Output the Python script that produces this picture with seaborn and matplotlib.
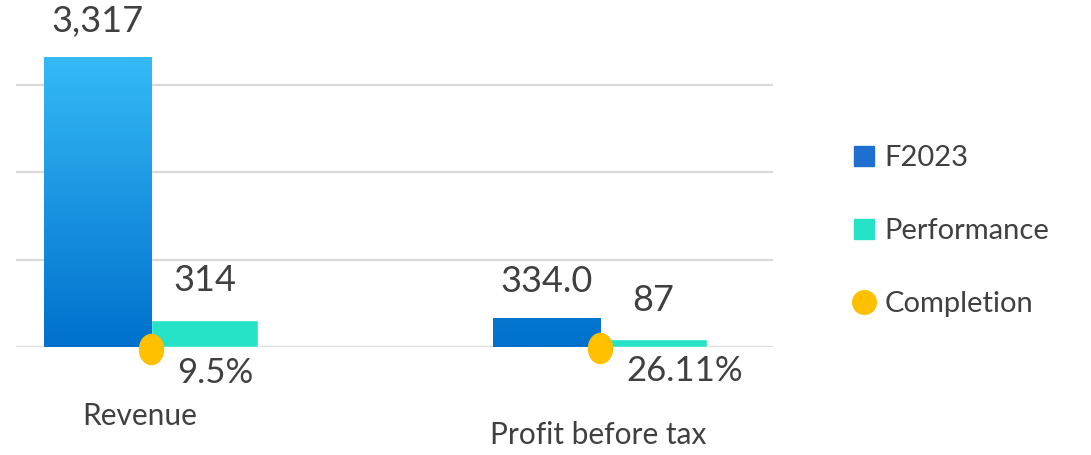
import numpy as np
import pandas as pd
import matplotlib
matplotlib.use("Agg")
import matplotlib.pyplot as plt
import seaborn as sns
from matplotlib.colors import LinearSegmentedColormap
from matplotlib.lines import Line2D
from matplotlib.path import Path

categories = ["Revenue", "Profit before tax"]
f2023 = [3317, 334.0]
performance = [314, 87]
completion = [9.5, 26.11]
f2023_labels = ["3,317", "334.0"]
performance_labels = ["314", "87"]
completion_labels = ["9.5%", "26.11%"]

df = pd.DataFrame({
    "category": categories * 2,
    "series": ["F2023"] * 2 + ["Performance"] * 2,
    "value": f2023 + performance,
})

sns.set_theme(style="white")
plt.rcParams["font.family"] = ["Lato", "DejaVu Sans"]
txt = "#404040"

fig = plt.figure(figsize=(10.91, 4.55), dpi=100)
ax = fig.add_axes([16 / 1091, 108 / 455, (773 - 16) / 1091, 347 / 455])

sns.barplot(data=df, x="category", y="value", hue="series", order=categories,
            hue_order=["F2023", "Performance"], palette=["#0A78D0", "#26E2C6"],
            width=0.477, saturation=1, legend=False, ax=ax)

ymax = 3973
ax.set_ylim(0, ymax)
ax.set_xlim(-0.30, 1.385)
ax.set_yticks([0, 1000, 2000, 3000])
ax.yaxis.grid(True, color="#DADADA", linewidth=1.6)
ax.set_axisbelow(True)
for s in ax.spines.values():
    s.set_visible(False)
ax.set_xticks([])
ax.set_yticklabels([])
ax.set_xlabel("")
ax.set_ylabel("")

# vertical gradient for the F2023 bars (same absolute scale for both bars)
cmap = LinearSegmentedColormap.from_list("blu", ["#0070CC", "#35BAF6"])
grad = np.linspace(0, 1, 256).reshape(-1, 1)
bars = ax.patches
f_bars = bars[:len(categories)]
p_bars = bars[len(categories):]
for b in f_bars:
    im = ax.imshow(grad, cmap=cmap, origin="lower", aspect="auto",
                   extent=[-0.30, 1.385, 0, max(f2023)], zorder=b.get_zorder())
    im.set_clip_path(b)
    b.set_edgecolor("none")
ax.set_xlim(-0.30, 1.385)
ax.set_ylim(0, ymax)

for b, lab in zip(f_bars, f2023_labels):
    ax.annotate(lab, (b.get_x() + b.get_width() / 2, b.get_height()),
                xytext=(0, 26), textcoords="offset points", ha="center", va="center",
                fontsize=26, color=txt, annotation_clip=False)
for b, lab in zip(p_bars, performance_labels):
    ax.annotate(lab, (b.get_x() + b.get_width() / 2, b.get_height()),
                xytext=(0, 28), textcoords="offset points", ha="center", va="center",
                fontsize=26, color=txt, annotation_clip=False)

# completion markers on a secondary axis
ax2 = ax.twinx()
ax2.set_ylim(33, 33 + ymax)
ax2.axis("off")
ax.tick_params(left=False, right=False, bottom=False)
t = np.linspace(0, 2 * np.pi, 60)
ell = Path(np.column_stack([0.8 * np.cos(t), np.sin(t)]))
xs = np.arange(len(categories))
ax2.scatter(xs, completion, marker=ell, s=470, color="#FFC000", zorder=5, clip_on=False)
for x, c, lab in zip(xs, completion, completion_labels):
    ax2.annotate(lab, (x, c), xytext=(19, -17), textcoords="offset points",
                 ha="left", va="center", fontsize=25, color=txt, annotation_clip=False)

# category labels
cat_offsets = [(-8, -50), (-1, -63)]
for x, lab, off in zip(xs, categories, cat_offsets):
    ax.annotate(lab, (x, 0), xytext=off, textcoords="offset points",
                ha="center", va="center", fontsize=21.5, color=txt, annotation_clip=False)

handles = [
    Line2D([], [], marker="s", linestyle="none", markersize=15, color="#1F6FD0"),
    Line2D([], [], marker="s", linestyle="none", markersize=15, color="#26E2C6"),
    Line2D([], [], marker="o", linestyle="none", markersize=17, color="#FFC000"),
]
fig.legend(handles, ["F2023", "Performance", "Completion"], loc="center left",
           bbox_to_anchor=(826 / 1091, 1 - 231 / 455), frameon=False, fontsize=21,
           labelspacing=1.62, handlelength=0.8, handletextpad=0.3, labelcolor=txt)

fig.savefig("out.png", dpi=100)
